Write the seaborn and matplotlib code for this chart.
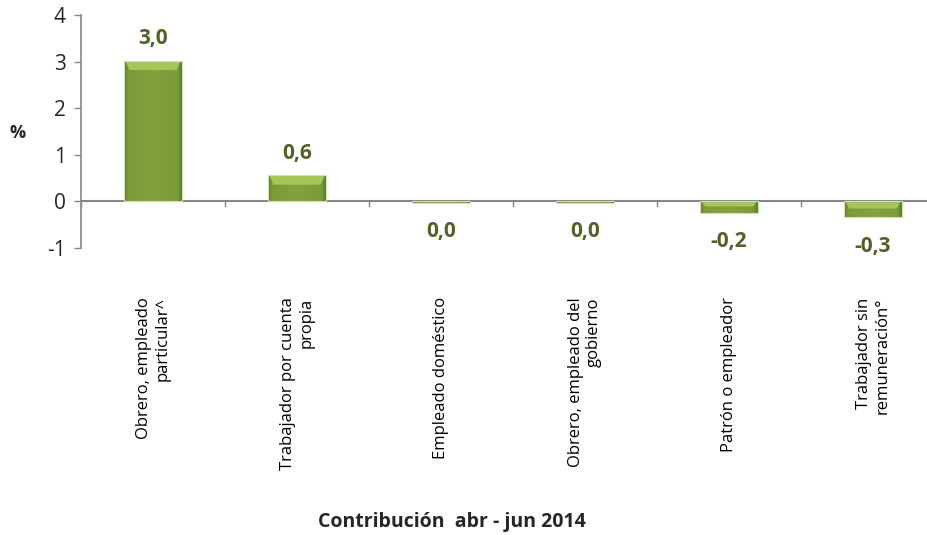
import numpy as np
import pandas as pd
import matplotlib
matplotlib.use("Agg")
import matplotlib.pyplot as plt
from matplotlib.colors import LinearSegmentedColormap
from matplotlib.patches import Polygon
import seaborn as sns

categorias = [
    "Obrero, empleado\nparticular^",
    "Trabajador por cuenta\npropia",
    "Empleado doméstico",
    "Obrero, empleado del\ngobierno",
    "Patrón o empleador",
    "Trabajador sin\nremuneración°",
]
contribucion = [3.02, 0.56, -0.03, -0.03, -0.24, -0.34]
y_ticks = [-1, 0, 1, 2, 3, 4]

df = pd.DataFrame({"categoria": categorias, "valor": contribucion})

sns.set_theme(style="white")
plt.rcParams["font.family"] = ["Open Sans", "DejaVu Sans"]

GRIS = "#868686"
VERDE = "#7D9E3A"
VERDE_OSC = "#4F6228"

fig = plt.figure(figsize=(9.28, 5.35), dpi=100)
ax = fig.add_axes([0.0873, 0.5364, 0.931, 0.4356])

sns.barplot(data=df, x="categoria", y="valor", color=VERDE, width=0.4,
            saturation=1, ax=ax, edgecolor="#D4E3B5", linewidth=0.8, zorder=3)

# Bevelled gradient fill clipped to each bar
cmap = LinearSegmentedColormap.from_list(
    "bisel", [(0.0, "#5C7A28"), (0.07, "#7A9B38"), (0.5, "#82A33E"),
              (0.93, "#7A9B38"), (1.0, "#5C7A28")])
grad_h = np.linspace(0, 1, 128)[None, :]
for patch in ax.patches:
    x0, y0 = patch.get_x(), patch.get_y()
    w, h = patch.get_width(), patch.get_height()
    ylo, yhi = min(y0, y0 + h), max(y0, y0 + h)
    img = np.repeat(grad_h, 32, axis=0)
    im = ax.imshow(img, cmap=cmap, aspect="auto", extent=(x0, x0 + w, ylo, yhi),
                   origin="lower", zorder=3.5, interpolation="bilinear")
    im.set_clip_path(patch)
    # light bevel at the top edge (trapezoid)
    band = min(0.2, (yhi - ylo) * 0.45)
    inset = 0.035
    bevel = Polygon([(x0 + 0.01, yhi - 0.015), (x0 + w - 0.01, yhi - 0.015),
                     (x0 + w - inset, yhi - band), (x0 + inset, yhi - band)],
                    closed=True, facecolor="#A9CB5E", edgecolor="none",
                    alpha=0.9, zorder=3.7)
    ax.add_patch(bevel)
    patch.set_facecolor("none")
    patch.set_zorder(4)

# Value labels
for i, v in enumerate(contribucion):
    r = round(v, 1)
    if abs(r) < 0.05:
        r = 0.0
    txt = f"{r:.1f}".replace(".", ",")
    ypos = v + 0.47 if v > 0.05 else min(v, 0) - 0.62
    ax.text(i, ypos, txt, ha="center", va="center", fontsize=15,
            fontweight="bold", color=VERDE_OSC)

ax.set_xlim(-0.5, 5.5)
ax.set_ylim(-1, 4)
ax.set_yticks(y_ticks)
ax.set_yticklabels([str(t) for t in y_ticks])

for s in ["top", "right"]:
    ax.spines[s].set_visible(False)
ax.spines["left"].set_color(GRIS)
ax.spines["left"].set_linewidth(1.2)
ax.spines["bottom"].set_position(("data", 0))
ax.spines["bottom"].set_color(GRIS)
ax.spines["bottom"].set_linewidth(1.5)
ax.spines["bottom"].set_zorder(2)

ax.tick_params(axis="y", direction="out", length=5, width=1, color=GRIS,
               labelsize=15, pad=6, left=True)
ax.tick_params(axis="x", which="major", length=0, pad=69, labelsize=12,
               labelcolor="black")
ax.set_xticks(np.arange(-0.5, 6.0, 1.0), minor=True)
ax.tick_params(axis="x", which="minor", direction="out", length=4, width=1,
               color=GRIS, bottom=True)
for lab in ax.get_xticklabels():
    lab.set_rotation(90)
    lab.set_ha("center")
    lab.set_va("top")
    lab.set_multialignment("right")

ax.set_xlabel("")
ax.set_ylabel("")
fig.text(18 / 928, 1 - 133 / 535, "%", ha="center", va="center", fontsize=13,
         fontweight="bold")
fig.text(452 / 928, 1 - 522 / 535, "Contribución  abr - jun 2014", ha="center",
         va="center", fontsize=14, fontweight="bold")

fig.savefig("out.png", dpi=100)
